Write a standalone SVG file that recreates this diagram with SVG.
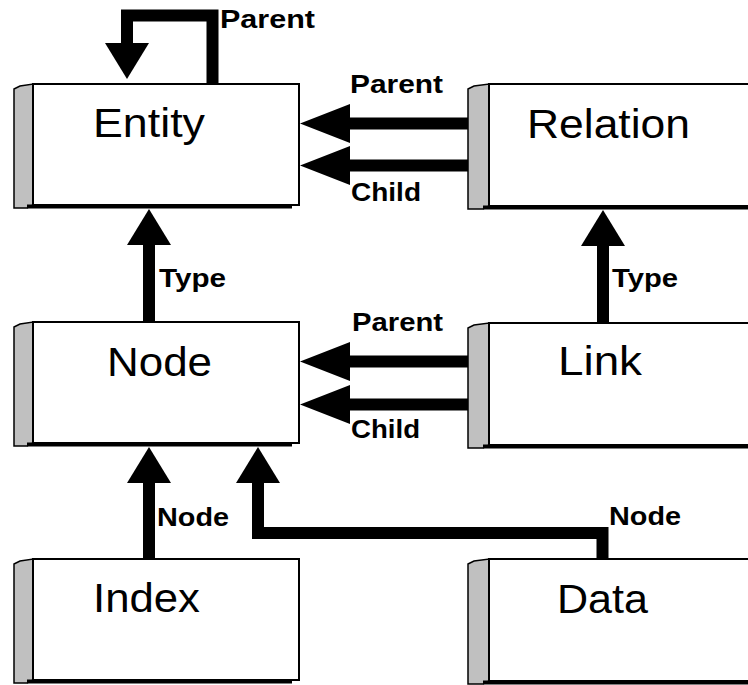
<svg xmlns="http://www.w3.org/2000/svg" width="748" height="685" viewBox="0 0 748 685">
  <style>
    .face { fill: #ffffff; stroke: #000000; stroke-width: 2; }
    .side { fill: #c0c0c0; stroke: #000000; stroke-width: 1.5; }
    .base { fill: none; stroke: #000000; stroke-width: 4; }
    .title { font-family: "Liberation Sans", Arial, sans-serif; font-size: 41px; fill: #000000; }
    .lbl { font-family: "Liberation Sans", Arial, sans-serif; font-size: 26px; font-weight: bold; fill: #000000; }
    .wire { fill: none; stroke: #000000; stroke-width: 12; stroke-linejoin: miter; }
  </style>
  <defs>
    <marker id="head" markerUnits="userSpaceOnUse" markerWidth="36" markerHeight="44" viewBox="0 0 36 44" refX="0" refY="22" orient="auto">
      <path d="M0,0 L36,22 L0,44 Z" fill="#000000"/>
    </marker>
    <marker id="headH" markerUnits="userSpaceOnUse" markerWidth="50" markerHeight="39" viewBox="0 0 50 39" refX="0" refY="19.5" orient="auto">
      <path d="M0,0 L50,19.5 L0,39 Z" fill="#000000"/>
    </marker>
    <!-- 3D box: grey left side, thick base edge, white front face -->
    <g id="box">
      <polygon class="side" points="14,5 20,2 33,0 33,121 27,124 14,124"/>
      <path class="base" d="M27,122.5 H292"/>
      <rect class="face" x="33" y="0" width="266" height="121"/>
    </g>
    <g id="boxWide">
      <polygon class="side" points="468,5 474,2 489,0 489,122 483,125 468,125"/>
      <path class="base" d="M483,123.5 H760"/>
      <rect class="face" x="489" y="0" width="270" height="122"/>
    </g>
  </defs>

  <rect width="748" height="685" fill="#ffffff"/>

  <g id="connectors">
    <!-- Entity self reference -->
    <path class="wire" d="M212.5,84 V15.5 H127 V43" marker-end="url(#head)"/>
    <text class="lbl" x="220" y="28" textLength="95" lengthAdjust="spacingAndGlyphs">Parent</text>

    <!-- Relation to Entity -->
    <path class="wire" d="M468,123.5 H350" marker-end="url(#headH)"/>
    <path class="wire" d="M468,165.5 H350" marker-end="url(#headH)"/>
    <text class="lbl" x="350" y="93" textLength="93" lengthAdjust="spacingAndGlyphs">Parent</text>
    <text class="lbl" x="351" y="201" textLength="70" lengthAdjust="spacingAndGlyphs">Child</text>

    <!-- Type links -->
    <path class="wire" d="M149,322 V245" marker-end="url(#head)"/>
    <text class="lbl" x="159" y="287" textLength="67" lengthAdjust="spacingAndGlyphs">Type</text>
    <path class="wire" d="M603,323 V246" marker-end="url(#head)"/>
    <text class="lbl" x="612" y="287" textLength="66" lengthAdjust="spacingAndGlyphs">Type</text>

    <!-- Link to Node -->
    <path class="wire" d="M468,361.5 H350" marker-end="url(#headH)"/>
    <path class="wire" d="M468,404.5 H350" marker-end="url(#headH)"/>
    <text class="lbl" x="352" y="331" textLength="91" lengthAdjust="spacingAndGlyphs">Parent</text>
    <text class="lbl" x="351" y="438" textLength="69" lengthAdjust="spacingAndGlyphs">Child</text>

    <!-- Index and Data to Node -->
    <path class="wire" d="M149,559 V483" marker-end="url(#head)"/>
    <text class="lbl" x="157" y="526" textLength="72" lengthAdjust="spacingAndGlyphs">Node</text>
    <path class="wire" d="M602.5,559 V533 H258 V483" marker-end="url(#head)"/>
    <text class="lbl" x="609" y="525" textLength="72" lengthAdjust="spacingAndGlyphs">Node</text>
  </g>

  <g id="entity">
    <use href="#box" x="0" y="84"/>
    <text class="title" x="93" y="137" textLength="112" lengthAdjust="spacingAndGlyphs">Entity</text>
  </g>
  <g id="relation">
    <use href="#boxWide" x="0" y="84"/>
    <text class="title" x="527" y="138" textLength="163" lengthAdjust="spacingAndGlyphs">Relation</text>
  </g>
  <g id="node">
    <use href="#box" x="0" y="322"/>
    <text class="title" x="107" y="376" textLength="105" lengthAdjust="spacingAndGlyphs">Node</text>
  </g>
  <g id="link">
    <use href="#boxWide" x="0" y="323"/>
    <text class="title" x="558" y="375" textLength="84" lengthAdjust="spacingAndGlyphs">Link</text>
  </g>
  <g id="index">
    <use href="#box" x="0" y="559"/>
    <text class="title" x="93" y="612" textLength="107" lengthAdjust="spacingAndGlyphs">Index</text>
  </g>
  <g id="data">
    <use href="#boxWide" x="0" y="559"/>
    <text class="title" x="557" y="613" textLength="91" lengthAdjust="spacingAndGlyphs">Data</text>
  </g>
</svg>
